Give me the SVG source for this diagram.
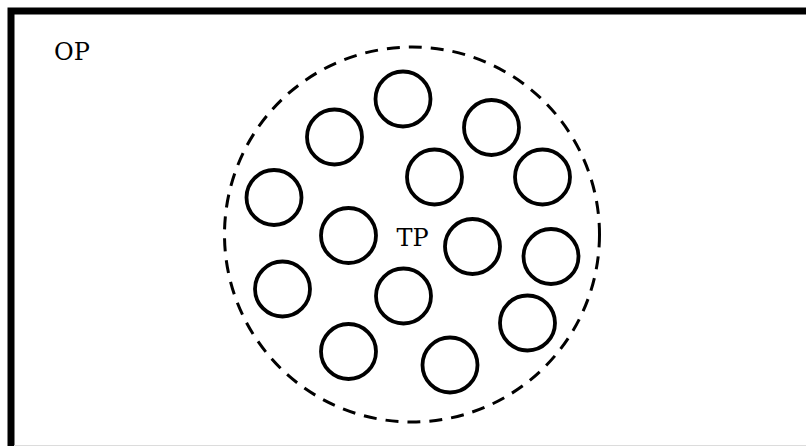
<svg xmlns="http://www.w3.org/2000/svg" width="806" height="446" viewBox="0 0 806 446">
  <style>
    .frame { fill: none; stroke: #000; stroke-width: 7; }
    .boundary { fill: none; stroke: #000; stroke-width: 3; stroke-dasharray: 13 9; }
    .particle { fill: none; stroke: #000; stroke-width: 3.8; }
    .label { font-family: "DejaVu Serif", "Liberation Serif", serif; font-size: 24px; fill: #000; }
  </style>
  <rect x="0" y="0" width="806" height="446" fill="#fff"/>
  <g id="OP">
    <rect class="frame" x="11" y="11" width="802" height="443"/>
    <line x1="14" y1="445.5" x2="806" y2="445.5" stroke="#dcdcdc" stroke-width="1"/>
    <text class="label" x="54" y="59.5">OP</text>
  </g>
  <g id="TP">
    <circle class="boundary" cx="412" cy="234.5" r="187.5"/>
    <text class="label" x="396.5" y="245.5">TP</text>
  </g>
  <g id="particles">
    <circle id="p1" class="particle" cx="403" cy="99" r="27.5"/>
    <circle id="p2" class="particle" cx="334.5" cy="137" r="27.5"/>
    <circle id="p3" class="particle" cx="491.5" cy="127.5" r="27.5"/>
    <circle id="p4" class="particle" cx="434.5" cy="177" r="27.5"/>
    <circle id="p5" class="particle" cx="542.5" cy="177" r="27.5"/>
    <circle id="p6" class="particle" cx="274" cy="197.5" r="27.5"/>
    <circle id="p7" class="particle" cx="348.5" cy="235.5" r="27.5"/>
    <circle id="p8" class="particle" cx="472.5" cy="246.5" r="27.5"/>
    <circle id="p9" class="particle" cx="551" cy="256.5" r="27.5"/>
    <circle id="p10" class="particle" cx="282.5" cy="289" r="27.5"/>
    <circle id="p11" class="particle" cx="403.5" cy="296" r="27.5"/>
    <circle id="p12" class="particle" cx="527.5" cy="323" r="27.5"/>
    <circle id="p13" class="particle" cx="348.5" cy="351.5" r="27.5"/>
    <circle id="p14" class="particle" cx="450" cy="365" r="27.5"/>
  </g>
  <g id="connectors"></g>
</svg>
